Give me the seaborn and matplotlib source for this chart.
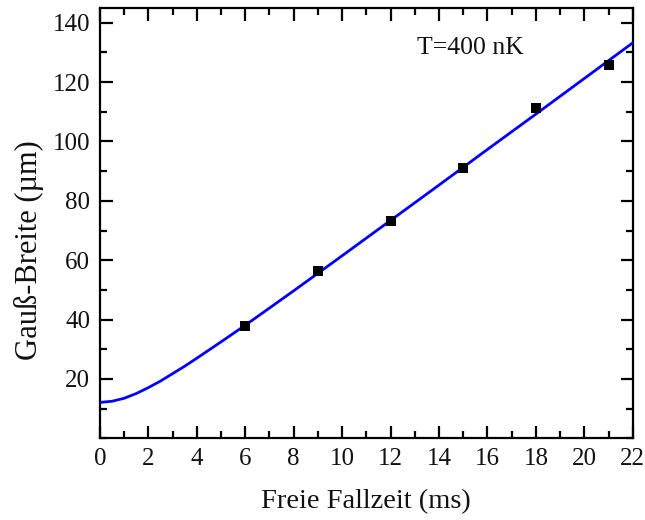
import matplotlib
matplotlib.use("Agg")
import matplotlib.pyplot as plt
from matplotlib.ticker import MultipleLocator, FixedLocator
import seaborn as sns
import pandas as pd

# Measured cloud widths
fall_time = [6, 9, 12, 15, 18, 21]
gauss_width = [37.8, 56.5, 73.1, 91.1, 111.3, 125.9]

# Fitted expansion curve
fit_time = [0, 0.5, 1, 1.5, 2, 2.5, 3, 3.5, 4, 5, 6, 7, 8, 10, 12, 14, 16, 18, 20, 22]
fit_width = [12.1, 12.5, 13.5, 15.1, 17.1, 19.3, 21.8, 24.3, 27.0, 32.5, 38.1,
             43.9, 49.7, 61.5, 73.4, 85.3, 97.3, 109.2, 121.2, 133.2]

y_ticks = [20, 40, 60, 80, 100, 120, 140]
x_ticks = list(range(0, 23, 2))

sns.set_theme(style="ticks")
plt.rcParams["font.family"] = ["Liberation Serif", "DejaVu Serif"]
plt.rcParams["mathtext.fontset"] = "stix"

fig, ax = plt.subplots(figsize=(6.45, 5.2), dpi=100)
fig.subplots_adjust(left=0.155, right=0.981, top=0.985, bottom=0.157)

meas = pd.DataFrame({"t": fall_time, "w": gauss_width})
fit = pd.DataFrame({"t": fit_time, "w": fit_width})

sns.lineplot(data=fit, x="t", y="w", color="#0000ff", linewidth=2.0, ax=ax, zorder=3)
sns.scatterplot(data=meas, x="t", y="w", marker="s", s=55, color="black",
                edgecolor="black", linewidth=0, ax=ax, zorder=4)

ax.set_xlim(0, 22)
ax.set_ylim(0, 145)
ax.xaxis.set_major_locator(FixedLocator(x_ticks))
ax.xaxis.set_minor_locator(MultipleLocator(1))
ax.yaxis.set_major_locator(FixedLocator(y_ticks))
ax.yaxis.set_minor_locator(MultipleLocator(10))

for side in ["left", "right", "top", "bottom"]:
    ax.spines[side].set_visible(True)
    ax.spines[side].set_linewidth(1.6)
    ax.spines[side].set_color("black")

ax.tick_params(which="both", direction="in", top=True, right=True,
               color="black", width=1.6)
ax.tick_params(which="major", length=9, labelsize=18, pad=7, labelcolor="#111111")
ax.tick_params(which="minor", length=5)

ax.set_xlabel("Freie Fallzeit (ms)", fontsize=20.5, labelpad=14, color="#111111")
ax.set_ylabel("Gauß-Breite (µm)", fontsize=22, color="#111111")
ax.yaxis.set_label_coords(-0.105, 0.437)

ax.text(15.3, 131.5, "T=400 nK", fontsize=18.5, ha="center", va="center", color="#111111")

fig.savefig("out.png", dpi=100)
